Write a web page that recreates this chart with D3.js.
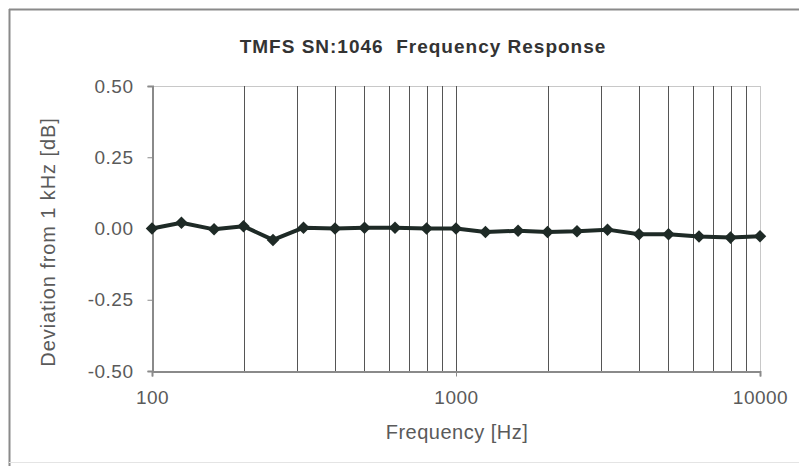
<!DOCTYPE html>
<html><head><meta charset="utf-8">
<script src="https://cdn.jsdelivr.net/npm/d3@7"></script>
<style>body{margin:0;background:#fff;}svg{display:block;}</style>
</head><body>
<svg id="c" width="799" height="466"></svg>
<script>
const freqs = [100,125,160,200,250,315,400,500,630,800,1000,1250,1600,2000,2500,3150,4000,5000,6300,8000,10000];
const deviation = [0.00,0.02,-0.003,0.008,-0.04,0.003,0.0,0.003,0.003,0.0,0.0,-0.012,-0.008,-0.012,-0.01,-0.004,-0.02,-0.02,-0.028,-0.032,-0.027];
const yTicks = [0.50,0.25,0.00,-0.25,-0.50];
const xMajor = [100,1000,10000];
const xMinor = [200,300,400,500,600,700,800,900,2000,3000,4000,5000,6000,7000,8000,9000];
const title = "TMFS SN:1046  Frequency Response";
const xTitle = "Frequency [Hz]";
const yTitle = "Deviation from 1 kHz [dB]";

const svg = d3.select("#c");
const L=152,R=760,T=86,B=371;
const x = d3.scaleLog().domain([100,10000]).range([L,R]);
const y = d3.scaleLinear().domain([-0.5,0.5]).range([B,T]);
const font = "Arial, 'Liberation Sans', sans-serif";

// outer frame
svg.append("line").attr("x1",9).attr("x2",799).attr("y1",9.5).attr("y2",9.5).attr("stroke","#8a8a8a").attr("stroke-width",2);
svg.append("line").attr("x1",9.5).attr("x2",9.5).attr("y1",9).attr("y2",466).attr("stroke","#8a8a8a").attr("stroke-width",2);
svg.append("line").attr("x1",9).attr("x2",799).attr("y1",462.5).attr("y2",462.5).attr("stroke","#e4e4e4").attr("stroke-width",1);

// plot border (top/right) light
svg.append("line").attr("x1",L).attr("x2",R).attr("y1",T+0.5).attr("y2",T+0.5).attr("stroke","#c8c8c8");
svg.append("line").attr("x1",R+0.5).attr("x2",R+0.5).attr("y1",T).attr("y2",B).attr("stroke","#c8c8c8");

// vertical grid
svg.append("g").selectAll("line").data(xMinor.concat([1000])).join("line")
  .attr("x1",d=>Math.round(x(d))+0.5).attr("x2",d=>Math.round(x(d))+0.5)
  .attr("y1",T).attr("y2",B).attr("stroke","#555").attr("stroke-width",1);

// axes
const fmt = d => d3.format(".2f")(d).replace("\u2212","-");
const yAxis = d3.axisLeft(y).tickValues(yTicks).tickFormat(fmt).tickSize(5).tickPadding(14);
const gy = svg.append("g").attr("transform",`translate(${L+0.5},0)`).call(yAxis);
gy.select(".domain").attr("stroke","#8a8a8a").attr("stroke-width",2);
gy.selectAll(".tick line").attr("stroke","#8a8a8a");
gy.selectAll("text").attr("font-family",font).attr("font-size",19).attr("letter-spacing",0.5).attr("fill","#5a5a5a");

const xAxis = d3.axisBottom(x).tickValues(xMajor).tickFormat(d3.format("d")).tickSize(5).tickPadding(14);
const gx = svg.append("g").attr("transform",`translate(0,${B+0.5})`).call(xAxis);
gx.select(".domain").attr("stroke","#8a8a8a").attr("stroke-width",2);
gx.selectAll(".tick line").attr("stroke","#8a8a8a");
gx.selectAll("text").attr("font-family",font).attr("font-size",19).attr("letter-spacing",0.5).attr("fill","#5a5a5a");

// data line
const line = d3.line().x((d,i)=>x(freqs[i])).y(d=>y(d));
svg.append("path").datum(deviation).attr("d",line).attr("fill","none")
  .attr("stroke","#1e2a26").attr("stroke-width",4).attr("stroke-linejoin","round");
svg.append("g").selectAll("path").data(deviation).join("path")
  .attr("d",d3.symbol().type(d3.symbolDiamond2).size(100))
  .attr("transform",(d,i)=>`translate(${x(freqs[i])},${y(d)})`)
  .attr("fill","#1e2a26");

// titles
svg.append("text").attr("x",423).attr("y",53).attr("text-anchor","middle")
  .attr("font-family",font).attr("font-size",19).attr("font-weight","bold").attr("fill","#333")
  .attr("letter-spacing",1).style("white-space","pre").text(title);
svg.append("text").attr("x",457).attr("y",439).attr("text-anchor","middle")
  .attr("font-family",font).attr("font-size",20).attr("letter-spacing",0.5).attr("fill","#5a5a5a").text(xTitle);
svg.append("text").attr("transform","translate(55,242) rotate(-90)").attr("text-anchor","middle")
  .attr("font-family",font).attr("font-size",20).attr("letter-spacing",0.9).attr("fill","#5a5a5a").text(yTitle);
</script>
</body></html>
